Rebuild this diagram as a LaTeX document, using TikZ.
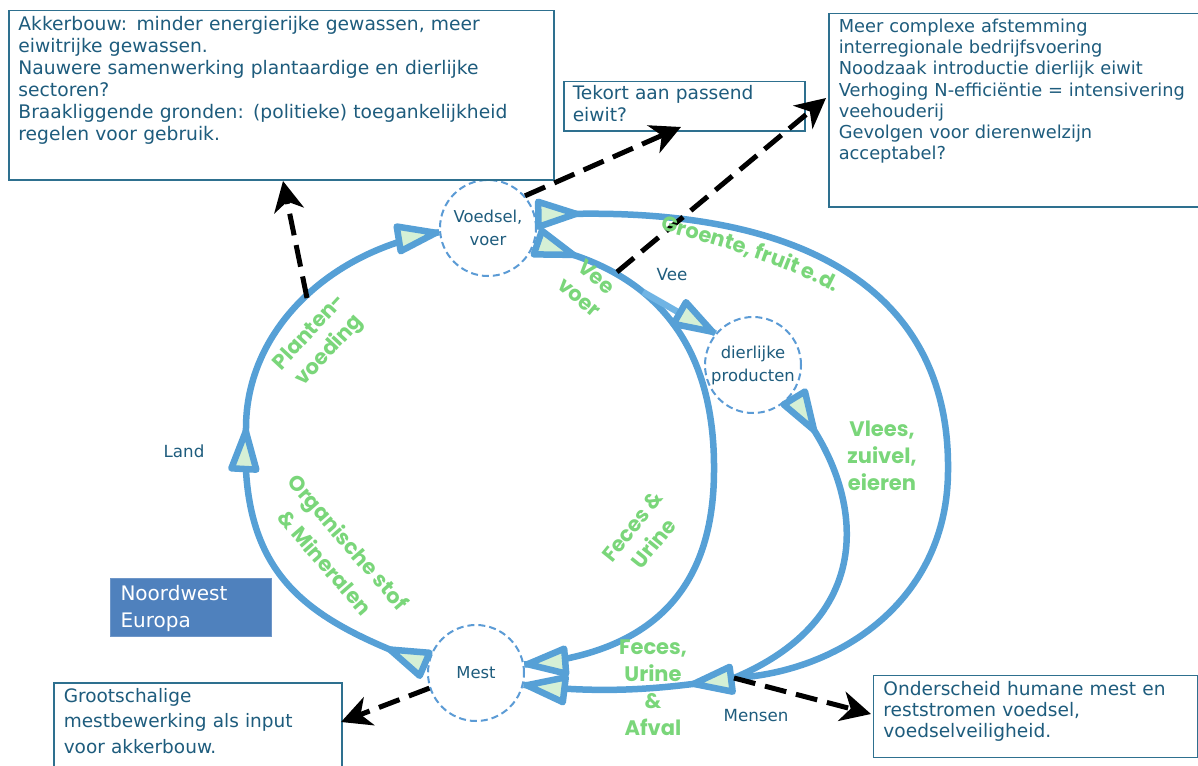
\documentclass[tikz,border=0pt]{standalone}
\usepackage{fontspec}
\setmainfont{DejaVu Sans}
\newfontfamily\greenfont{Poppins}
\usetikzlibrary{arrows.meta,decorations.markings,decorations.text}

\definecolor{flowblue}{RGB}{86,160,214}
\definecolor{branchblue}{RGB}{112,180,228}
\definecolor{mint}{RGB}{213,240,213}
\definecolor{ringblue}{RGB}{91,155,213}
\definecolor{leaf}{RGB}{122,214,122}
\definecolor{ink}{RGB}{30,92,125}
\definecolor{frame}{RGB}{46,112,143}
\definecolor{regionfill}{RGB}{79,129,189}
\definecolor{regionedge}{RGB}{110,150,200}

% open triangular head of a flow, tip at the local origin
\newcommand\flowhead{\draw[draw=flowblue,fill=mint,line width=6.5pt,line join=round,solid]
  (-3.25pt,0pt) -- (-41pt,12.5pt) -- (-41pt,-12.5pt) -- cycle;}

\begin{document}
\begin{tikzpicture}[x=1pt,y=-1pt,
  flow/.style={draw=flowblue,line width=6.5pt},
  headat/.style={postaction={decorate,decoration={markings,mark=at position #1 with {\flowhead}}}},
  ring/.style={circle,draw=ringblue,line width=2pt,dash pattern=on 7pt off 4pt,
    minimum size=96pt,inner sep=0pt,fill=white,text=ink,align=center,
    font=\fontsize{16.4}{23}\selectfont},
  tag/.style={text=ink,font=\fontsize{16.7}{20}\selectfont},
  leaflabel/.style={text=leaf,align=center,font=\greenfont\bfseries\fontsize{21}{27}\selectfont},
  note/.style={draw=frame,line width=1.5pt,fill=white,text=ink,align=left,
    anchor=north west,inner ysep=0pt},
  hint/.style={draw=black,line width=5pt,dash pattern=on 22pt off 10pt,
    -{Stealth[length=30pt,width=30pt,inset=9pt]}},
]
\useasboundingbox (0,0) rectangle (1198,765);

% --- stations of the cycle
\node[ring] (voedsel) at (488,228) {Voedsel,\\voer};
\node[ring] (dier) at (753,365) {dierlijke\\producten};
\node[ring] (mest) at (476,673) {Mest};
\coordinate (land) at (246,428);
\coordinate (mensen) at (734,678);
\coordinate (vee) at (643,292);

% --- nutrient flows
\draw[flow,headat=44pt,headat=0.9999] (mest.170) .. controls (310,620) and (238,580) .. (land);
\draw[flow,headat=0.9999] (land) .. controls (246,330) and (330,250) .. (voedsel.185);
\draw[flow,headat=44pt,headat=0.9999] (voedsel.-20) .. controls (640,265) and (715,330) .. (714,470)
   .. controls (714,600) and (640,655) .. (mest.10);
\draw[flow,draw=branchblue,headat=0.9999] (vee) -- (dier.140);
\draw[flow,headat=44pt] (voedsel.15) .. controls (810,200) and (950,295) .. (948,470)
   .. controls (948,600) and (840,672) .. (mensen);
\draw[flow,headat=44pt] (dier.-42) .. controls (855,470) and (895,610) .. (mensen);
\draw[flow,headat=44pt,headat=0.9999] (mensen) .. controls (660,690) and (600,694) .. (mest.-14);

% --- remarks
\node[note,inner xsep=9.7pt,text width=526pt,text height=19.3pt,text depth=149.7pt,
  font=\fontsize{18.7}{22}\selectfont] (boxA) at (8,10)
  {Akkerbouw: minder energierijke gewassen, meer\\eiwitrijke gewassen.\\
   Nauwere samenwerking plantaardige en dierlijke\\sectoren?\\
   Braakliggende gronden: (politieke) toegankelijkheid\\regelen voor gebruik.};
\node[note,inner xsep=10pt,text width=357pt,text height=18.7pt,text depth=174.3pt,
  font=\fontsize{17.8}{21.2}\selectfont] (boxB) at (828,13)
  {Meer complexe afstemming\\interregionale bedrijfsvoering\\Noodzaak introductie dierlijk eiwit\\
   Verhoging N-efficiëntie = intensivering\\veehouderij\\Gevolgen voor dierenwelzijn\\acceptabel?};
\node[note,inner xsep=9pt,text width=223pt,text height=18pt,text depth=31pt,
  font=\fontsize{18.6}{22}\selectfont] (boxC) at (563,81)
  {Tekort aan passend\\eiwit?};
\node[note,inner xsep=10pt,text width=268pt,text height=19.7pt,text depth=75pt,
  font=\fontsize{18.5}{25.5}\selectfont] (boxD) at (53,682)
  {Grootschalige\\mestbewerking als input\\voor akkerbouw.};
\node[note,inner xsep=10.2pt,text width=303.6pt,text height=19.8pt,text depth=62.4pt,
  font=\fontsize{18.6}{21.2}\selectfont] (boxE) at (872.5,674.5)
  {Onderscheid humane mest en\\reststromen voedsel,\\voedselveiligheid.};
\node[note,draw=regionedge,line width=1pt,fill=regionfill,text=white,inner xsep=10pt,
  text width=141pt,text height=22pt,text depth=36pt,
  font=\fontsize{20}{27.3}\selectfont] (region) at (110,578)
  {Noordwest\\Europa};

% --- consequences
\coordinate (c1) at (307,298);
\coordinate (t1) at (283,181);
\coordinate (t2) at (681,127);
\coordinate (c3) at (617,272);
\coordinate (t3) at (826,98);
\coordinate (t4) at (341,722);
\coordinate (t5) at (871,714);
\draw[hint] (c1) -- (t1);
\draw[hint] (voedsel.41) -- (t2);
\draw[hint] (c3) -- (t3);
\draw[hint] (mest.198) -- (t4);
\draw[hint] (mensen) -- (t5);

% --- place names
\node[tag] (landlabel) at (184,451) {Land};
\node[tag] (veelabel) at (672,275) {Vee};
\node[tag] (mensenlabel) at (756,716) {Mensen};

% --- flow names
\node[leaflabel,rotate=47] (plant) at (320,342) {Planten-\\voeding};
\node[leaflabel,rotate=-49,font=\greenfont\bfseries\fontsize{21}{31}\selectfont] (org) at (337,552)
  {Organische stof\\\& Mineralen};
\node[leaflabel,rotate=-40] (voer) at (588,287) {Vee\\voer};
\node[leaflabel,rotate=51] (fec1) at (643,535) {Feces \&\\Urine};
\node[leaflabel] (vlees) at (882,456) {Vlees,\\zuivel,\\eieren};
\node[leaflabel] (fec2) at (653,688) {Feces,\\Urine\\\&\\Afval};
\path[decorate,decoration={text along path,text color=leaf,
  text={|\greenfont\bfseries\fontsize{21}{21}\selectfont|Groente, fruit e.d.}}]
  (660,230) .. controls (720,246) and (790,266) .. (845,298);
\end{tikzpicture}
\end{document}
